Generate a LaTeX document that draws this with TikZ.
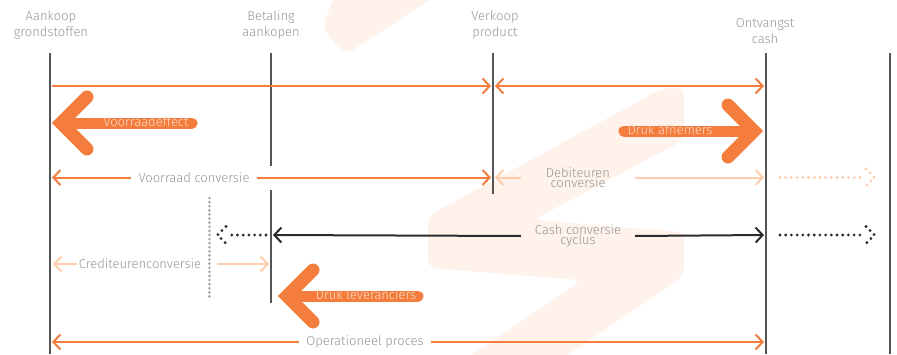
\documentclass[tikz,border=0pt]{standalone}
\usepackage{fontspec}
\setmainfont{Fira Sans}[UprightFont=* Light]
\usetikzlibrary{arrows.meta}
\definecolor{org}{HTML}{F47C3C}
\definecolor{lorg}{HTML}{FDCDAE}
\definecolor{wm}{HTML}{FEF2EB}
\definecolor{txt}{HTML}{959595}
\definecolor{vl}{HTML}{555555}
\definecolor{blk}{HTML}{2B2B2B}
\definecolor{dgray}{HTML}{A5A5A5}
\definecolor{arrtxt}{HTML}{FDDDCA}
\begin{document}
\begin{tikzpicture}[x=1pt,y=-1pt,
  >={Straight Barb[length=7pt,width=15pt]},
  vline/.style={draw=vl,line width=1.8pt},
  head/.style={font=\fontsize{13}{16}\selectfont,text=txt,align=center,inner sep=0pt},
  rowlbl/.style={font=\fontsize{13}{10.5}\selectfont,text=txt,align=center,inner xsep=7pt,inner ysep=0pt},
  oline/.style={draw=org,line width=2pt},
  lline/.style={draw=lorg,line width=2pt},
  kline/.style={draw=blk,line width=2pt},
  bigshaft/.style={draw=org,line width=11pt,line cap=round},
  bigchev/.style={draw=org,line width=13pt,line cap=round,line join=miter},
  bigtxt/.style={font=\fontsize{13}{16}\selectfont,text=arrtxt,inner sep=0pt},
  dots/.style={line width=3.1pt,line cap=round,dash pattern=on 0pt off 5.7pt},
  vdots/.style={draw=dgray,line width=2.9pt,line cap=round,dash pattern=on 0pt off 4.1pt}
]
\useasboundingbox (0,0) rectangle (897,354);
% watermark
\fill[wm,rounded corners=9pt] (337,-10) -- (322,28) -- (345,55) -- (445,-10) -- cycle;
\fill[wm,rounded corners=9pt] (663,88) -- (684,88) -- (684,140) -- (533,220) -- (684,232)
  -- (684,276) -- (545,370) -- (450,370) -- (582,280) -- (428,268) -- (428,216) -- cycle;

% vertical lines
\draw[vline] (50,53) -- (50,354);
\draw[vline] (271,53) -- (271,166);
\draw[vline] (271,190) -- (271,303);
\draw[vline] (493,53) -- (493,194);
\draw[vline] (766,53) -- (766,354);
\draw[vline] (890,53) -- (890,354);

% headings
\node[head] (h1) at (51,25) {Aankoop\\grondstoffen};
\node[head] (h2) at (271,25) {Betaling\\aankopen};
\node[head] (h3) at (495,25) {Verkoop\\product};
\node[head] (h4) at (765,31) {Ontvangst\\cash};

% coordinates
\coordinate (r1a) at (52,86);
\coordinate (r1b) at (491,86);
\coordinate (r1c) at (495,86);
\coordinate (r1d) at (764,86);
\coordinate (vca) at (52,177.5);
\coordinate (vcb) at (491,177.5);
\coordinate (dca) at (495,177.5);
\coordinate (dcb) at (764,177.5);
\coordinate (dda) at (780,177.5);
\coordinate (ddb) at (874.5,177.5);
\coordinate (cca) at (273,235);
\coordinate (ccb) at (764,235);
\coordinate (cda) at (780,235);
\coordinate (cdb) at (874.5,235);
\coordinate (lda) at (266,235);
\coordinate (ldb) at (217.5,235);
\coordinate (cra) at (53,264);
\coordinate (crb) at (269,264);
\coordinate (cr2) at (217,264);
\coordinate (opa) at (52,342);
\coordinate (opb) at (764,342);
\coordinate (gv1) at (209.5,198);
\coordinate (gv2) at (209.5,298);

% row 1
\draw[oline,->] (r1a) -- (r1b);
\draw[oline,<->] (r1c) -- (r1d);

% Voorraad conversie
\node[rowlbl] (vcl) at (194,177.5) {Voorraad conversie};
\draw[oline,->] (vcl.west) -- (vca);
\draw[oline,->] (vcl.east) -- (vcb);

% Debiteuren conversie
\node[rowlbl,inner xsep=25pt] (dcl) at (578,177.5) {Debiteuren\\conversie};
\draw[lline,->] (dcl.west) -- (dca);
\draw[lline,->] (dcl.east) -- (dcb);
\draw[lorg,dots] (dda) -- ([xshift=-14pt]ddb);
\draw[lorg,dots] ([shift={(-8.5,-8.5)}]ddb) -- (ddb) -- ([shift={(-8.5,8.5)}]ddb);

% Cash conversie cyclus
\node[rowlbl,inner xsep=14pt] (ccl) at (578,236) {Cash conversie\\cyclus};
\draw[kline,->] (ccl.west) -- (cca);
\draw[kline,->] (ccl.east) -- (ccb);
\draw[blk,dots] (cda) -- ([xshift=-14pt]cdb);
\draw[blk,dots] ([shift={(-8.5,-8.5)}]cdb) -- (cdb) -- ([shift={(-8.5,8.5)}]cdb);
\draw[blk,dots] (lda) -- ([xshift=11pt]ldb);
\draw[blk,dots] ([shift={(8.5,-8.5)}]ldb) -- (ldb) -- ([shift={(8.5,8.5)}]ldb);

% gray dotted vertical
\draw[vdots] (gv1) -- (gv2);

% Crediteurenconversie
\node[rowlbl,inner xsep=2pt] (crl) at (140,264) {Crediteurenconversie};
\draw[lline,->] (crl.west) -- (cra);
\draw[lline,->] (cr2) -- (crb);

% Operationeel proces
\node[rowlbl] (opl) at (365,342) {Operationeel proces};
\draw[oline,->] (opl.west) -- (opa);
\draw[oline,->] (opl.east) -- (opb);

% big arrows
\coordinate (ve1) at (61,123);
\coordinate (ve2) at (192,123);
\draw[bigshaft] (ve1) -- (ve2);
\draw[bigchev] (87,97) -- (ve1) -- (87,149);
\node[bigtxt] (vet) at (146,122) {Voorraadeffect};

\coordinate (da1) at (754,131);
\coordinate (da2) at (624,131);
\draw[bigshaft] (da2) -- (da1);
\draw[bigchev] (728,105) -- (da1) -- (728,157);
\node[bigtxt] (dat) at (670,130) {Druk afnemers};

\coordinate (dl1) at (287,296);
\coordinate (dl2) at (418,296);
\draw[bigshaft] (dl1) -- (dl2);
\draw[bigchev] (313,270) -- (dl1) -- (313,322);
\node[bigtxt] (dlt) at (366,295) {Druk leveranciers};
\end{tikzpicture}
\end{document}
